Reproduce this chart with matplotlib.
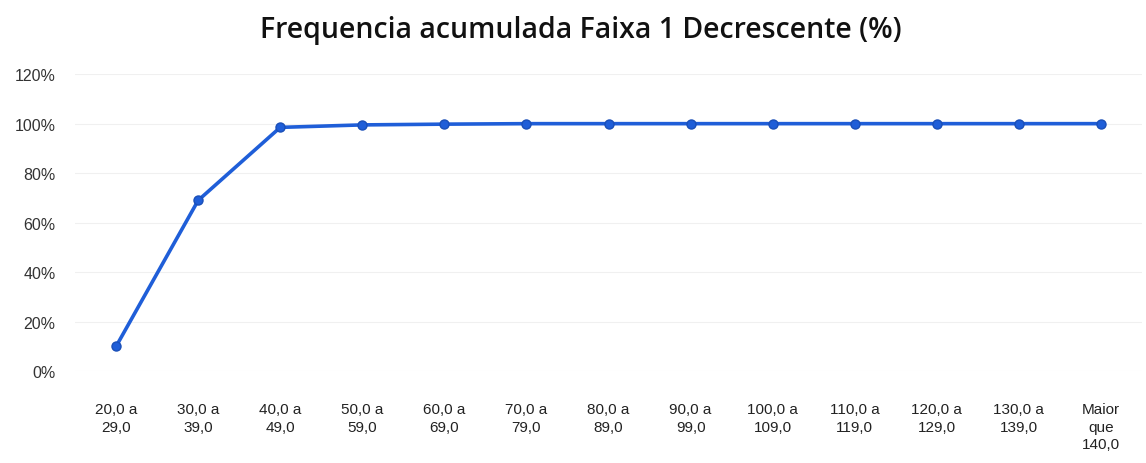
import matplotlib.pyplot as plt
from matplotlib.ticker import PercentFormatter

# classes (faixas) and cumulative frequency in %
categories = ["20,0 a\n29,0", "30,0 a\n39,0", "40,0 a\n49,0", "50,0 a\n59,0",
              "60,0 a\n69,0", "70,0 a\n79,0", "80,0 a\n89,0", "90,0 a\n99,0",
              "100,0 a\n109,0", "110,0 a\n119,0", "120,0 a\n129,0",
              "130,0 a\n139,0", "Maior\nque\n140,0"]
freq_acum = [10.0, 69.0, 98.5, 99.5, 99.8, 100.0, 100.0, 100.0, 100.0,
             100.0, 100.0, 100.0, 100.0]
y_ticks = [0, 20, 40, 60, 80, 100, 120]

line_color = '#1f5ed8'

fig = plt.figure(figsize=(11.46, 4.64), dpi=100)
ax = fig.add_axes([0.0655, 0.198, 0.931, 0.64])

x = list(range(len(categories)))
ax.plot(x, freq_acum, color=line_color, linewidth=2.6,
        marker='o', markersize=6.5, markerfacecolor=line_color,
        markeredgecolor='#1a4fb8', markeredgewidth=1)

ax.set_xlim(-0.5, len(categories) - 0.5)
ax.set_ylim(0, 120)
ax.set_yticks(y_ticks)
ax.yaxis.set_major_formatter(PercentFormatter(decimals=0))
ax.set_xticks(x)
ax.set_xticklabels(categories, fontsize=11, color='#222222',
                   family='Liberation Sans', linespacing=1.35)
for lbl in ax.get_yticklabels():
    lbl.set_fontsize(11.5)
    lbl.set_color('#333333')
    lbl.set_family('Liberation Sans')

# faint gridlines, no spines
ax.grid(axis='y', color='#f0f0f0', linewidth=0.8)
ax.set_axisbelow(True)
for s in ax.spines.values():
    s.set_visible(False)
ax.tick_params(axis='both', length=0)
ax.tick_params(axis='y', pad=14)
ax.tick_params(axis='x', pad=22)

fig.text(0.507, 0.935, "Frequencia acumulada Faixa 1 Decrescente (%)",
         ha='center', va='center', fontsize=20.5, fontweight='semibold',
         family='Open Sans', color='#111111')

fig.savefig('out.png', dpi=100)
